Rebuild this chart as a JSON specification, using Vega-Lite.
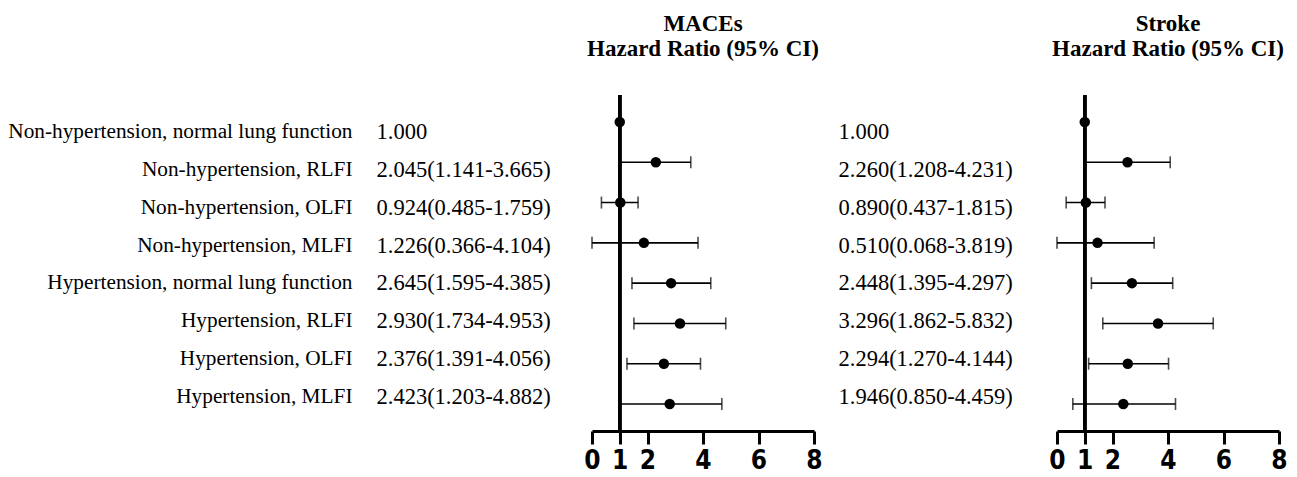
{
  "$schema": "https://vega.github.io/schema/vega-lite/v6.json",
  "autosize": {"type": "none"},
  "padding": {"left": 348, "top": 95, "right": 949, "bottom": 382},
  "background": "white",
  "data": {"values": [
    {"group": "Non-hypertension, normal lung function", "m_txt": "1.000", "m_hr": 1.0, "m_lo": null, "m_hi": null, "s_txt": "1.000", "s_hr": 1.0, "s_lo": null, "s_hi": null},
    {"group": "Non-hypertension, RLFI", "m_txt": "2.045(1.141-3.665)", "m_hr": 2.30, "m_lo": 1.0, "m_hi": 3.56, "s_txt": "2.260(1.208-4.231)", "s_hr": 2.54, "s_lo": 1.0, "s_hi": 4.08},
    {"group": "Non-hypertension, OLFI", "m_txt": "0.924(0.485-1.759)", "m_hr": 1.02, "m_lo": 0.34, "m_hi": 1.66, "s_txt": "0.890(0.437-1.815)", "s_hr": 1.04, "s_lo": 0.33, "s_hi": 1.73},
    {"group": "Non-hypertension, MLFI", "m_txt": "1.226(0.366-4.104)", "m_hr": 1.87, "m_lo": 0.0, "m_hi": 3.82, "s_txt": "0.510(0.068-3.819)", "s_hr": 1.46, "s_lo": 0.0, "s_hi": 3.50},
    {"group": "Hypertension, normal lung function", "m_txt": "2.645(1.595-4.385)", "m_hr": 2.85, "m_lo": 1.44, "m_hi": 4.28, "s_txt": "2.448(1.395-4.297)", "s_hr": 2.70, "s_lo": 1.24, "s_hi": 4.17},
    {"group": "Hypertension, RLFI", "m_txt": "2.930(1.734-4.953)", "m_hr": 3.17, "m_lo": 1.51, "m_hi": 4.82, "s_txt": "3.296(1.862-5.832)", "s_hr": 3.64, "s_lo": 1.65, "s_hi": 5.63},
    {"group": "Hypertension, OLFI", "m_txt": "2.376(1.391-4.056)", "m_hr": 2.59, "m_lo": 1.26, "m_hi": 3.91, "s_txt": "2.294(1.270-4.144)", "s_hr": 2.55, "s_lo": 1.14, "s_hi": 4.02},
    {"group": "Hypertension, MLFI", "m_txt": "2.423(1.203-4.882)", "m_hr": 2.80, "m_lo": 1.0, "m_hi": 4.68, "s_txt": "1.946(0.850-4.459)", "s_hr": 2.39, "s_lo": 0.57, "s_hi": 4.27}
  ]},
  "bounds": "flush",
  "spacing": 243,
  "hconcat": [
    {
      "width": 1,
      "height": 336,
      "mark": {"type": "point", "opacity": 0},
      "encoding": {
        "y": {"field": "group", "type": "nominal", "sort": null,
          "scale": {"type": "point", "padding": 0.93},
          "axis": {"orient": "right", "title": null, "domain": false, "ticks": false, "tickSize": 0, "grid": false,
            "labelAlign": "right", "labelPadding": 3, "labelFont": "Liberation Serif", "labelFontSize": 21.3,
            "labelColor": "black", "labelLimit": 0, "labelOffset": 1}}
      }
    },
    {
      "width": 222,
      "height": 336,
      "title": {"text": ["MACEs", "Hazard Ratio (95% CI)"], "font": "Liberation Serif", "fontSize": 23, "fontWeight": "bold", "lineHeight": 25, "offset": 33, "anchor": "middle", "color": "black"},
      "resolve": {"scale": {"y": "independent"}},
      "layer": [
        {
          "mark": {"type": "point", "opacity": 0},
          "encoding": {
            "y": {"field": "m_txt", "type": "nominal", "sort": null, "scale": {"type": "point", "padding": 0.93},
              "axis": {"orient": "left", "title": null, "domain": false, "ticks": false, "tickSize": 0, "grid": false,
                "labelAlign": "left", "labelPadding": 216, "labelFont": "Liberation Serif", "labelFontSize": 22.5,
                "labelColor": "black", "labelLimit": 0, "labelOffset": 1}}
          }
        },
        {
          "layer": [
            {
              "mark": {"type": "rule", "strokeWidth": 3, "color": "black"},
              "encoding": {"x": {"datum": 1, "type": "quantitative", "scale": {"domain": [0, 8], "nice": false}}}
            },
            {
              "mark": {"type": "point", "filled": true, "size": 110, "color": "black", "opacity": 1},
              "encoding": {
                "x": {"field": "m_hr", "type": "quantitative", "scale": {"domain": [0, 8], "nice": false},
                  "axis": {"values": [0, 1, 2, 4, 6, 8], "title": null, "grid": false, "domainWidth": 3, "domainColor": "black",
                    "tickWidth": 3, "tickColor": "black", "tickSize": 13, "labelFont": "Liberation Sans Narrow, DejaVu Sans Condensed, Liberation Sans",
                    "labelFontSize": 26, "labelFontWeight": "bold", "labelColor": "black", "labelPadding": 3, "labelFlush": false, "labelOverlap": false}},
                "y": {"field": "group", "type": "nominal", "sort": null, "scale": {"type": "point", "padding": 0.67}, "axis": null}
              }
            },
            {
              "mark": {"type": "errorbar", "ticks": true, "size": 12, "thickness": 1.6, "color": "black"},
              "encoding": {
                "x": {"field": "m_lo", "type": "quantitative", "scale": {"domain": [0, 8], "nice": false}},
                "x2": {"field": "m_hi"},
                "y": {"field": "group", "type": "nominal", "sort": null, "scale": {"type": "point", "padding": 0.67}, "axis": null}
              }
            }
          ]
        }
      ]
    },
    {
      "width": 222,
      "height": 336,
      "title": {"text": ["Stroke", "Hazard Ratio (95% CI)"], "font": "Liberation Serif", "fontSize": 23, "fontWeight": "bold", "lineHeight": 25, "offset": 33, "anchor": "middle", "color": "black"},
      "resolve": {"scale": {"y": "independent"}},
      "layer": [
        {
          "mark": {"type": "point", "opacity": 0},
          "encoding": {
            "y": {"field": "s_txt", "type": "nominal", "sort": null, "scale": {"type": "point", "padding": 0.93},
              "axis": {"orient": "left", "title": null, "domain": false, "ticks": false, "tickSize": 0, "grid": false,
                "labelAlign": "left", "labelPadding": 219, "labelFont": "Liberation Serif", "labelFontSize": 22.5,
                "labelColor": "black", "labelLimit": 0, "labelOffset": 1}}
          }
        },
        {
          "layer": [
            {
              "mark": {"type": "rule", "strokeWidth": 3, "color": "black"},
              "encoding": {"x": {"datum": 1, "type": "quantitative", "scale": {"domain": [0, 8], "nice": false}}}
            },
            {
              "mark": {"type": "point", "filled": true, "size": 110, "color": "black", "opacity": 1},
              "encoding": {
                "x": {"field": "s_hr", "type": "quantitative", "scale": {"domain": [0, 8], "nice": false},
                  "axis": {"values": [0, 1, 2, 4, 6, 8], "title": null, "grid": false, "domainWidth": 3, "domainColor": "black",
                    "tickWidth": 3, "tickColor": "black", "tickSize": 13, "labelFont": "Liberation Sans Narrow, DejaVu Sans Condensed, Liberation Sans",
                    "labelFontSize": 26, "labelFontWeight": "bold", "labelColor": "black", "labelPadding": 3, "labelFlush": false, "labelOverlap": false}},
                "y": {"field": "group", "type": "nominal", "sort": null, "scale": {"type": "point", "padding": 0.67}, "axis": null}
              }
            },
            {
              "mark": {"type": "errorbar", "ticks": true, "size": 12, "thickness": 1.6, "color": "black"},
              "encoding": {
                "x": {"field": "s_lo", "type": "quantitative", "scale": {"domain": [0, 8], "nice": false}},
                "x2": {"field": "s_hi"},
                "y": {"field": "group", "type": "nominal", "sort": null, "scale": {"type": "point", "padding": 0.67}, "axis": null}
              }
            }
          ]
        }
      ]
    }
  ],
  "config": {"view": {"stroke": null}, "font": "Liberation Serif"}
}
